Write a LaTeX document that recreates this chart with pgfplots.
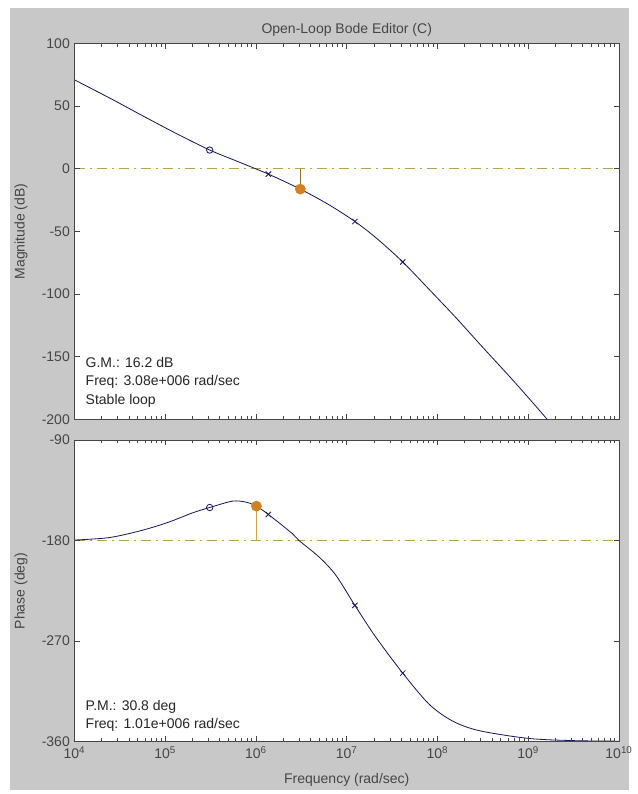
\documentclass[border=0pt]{standalone}
\usepackage{pgfplots}
\pgfplotsset{compat=1.18}
\usepackage{fontspec}
\setmainfont{Liberation Sans}
\definecolor{bg}{RGB}{200,200,200}
\definecolor{curve}{RGB}{20,20,95}
\definecolor{refl}{RGB}{190,160,70}
\definecolor{dotc}{RGB}{210,130,35}
\definecolor{stem1}{RGB}{150,110,40}
\definecolor{stem2}{RGB}{215,160,80}
\definecolor{txt}{RGB}{70,70,70}
\definecolor{frame}{RGB}{70,70,70}

\begin{document}
\begin{tikzpicture}
\begin{scope}[x=0.75pt,y=-0.75pt]
\path[use as bounding box] (0,0) rectangle (629,794);
\fill[white] (0,0) rectangle (629,794);
\fill[bg] (10,8) rectangle (629,790);
\end{scope}

% Magnitude
\begin{axis}[
  scale only axis,
  width=408.375pt,
  height=282pt,
  xmode=log, log basis x=10,
  xmin=1e4, xmax=1e10,
  xtick={1e4,1e5,1e6,1e7,1e8,1e9,1e10},
  minor xtick={2e4,3e4,4e4,5e4,6e4,7e4,8e4,9e4,2e5,3e5,4e5,5e5,6e5,7e5,8e5,9e5,2e6,3e6,4e6,5e6,6e6,7e6,8e6,9e6,2e7,3e7,4e7,5e7,6e7,7e7,8e7,9e7,2e8,3e8,4e8,5e8,6e8,7e8,8e8,9e8,2e9,3e9,4e9,5e9,6e9,7e9,8e9,9e9},
  axis on top,
  tick align=inside,
  xtick pos=both, ytick pos=both,
  major tick length=4pt,
  minor tick length=2.5pt,
  axis background/.style={fill=white},
  axis line style={draw=frame, line width=0.6pt},
  major tick style={draw=frame, line width=0.7pt},
  minor tick style={draw=frame, line width=0.7pt},
  tick label style={font=\fontsize{10.5}{12}\selectfont, text=txt},
  at={(55.875pt,-32.625pt)}, anchor=north west,
  ymin=-200, ymax=100,
  ytick={-200,-150,-100,-50,0,50,100},
  yticklabels={-200,-150,-100,-50,0,50,100},
  xticklabels={},
]
\addplot[refl, line width=0.6pt, dash pattern=on 8pt off 3.5pt on 1.5pt off 3.5pt] coordinates {(1e4,0) (1e10,0)};
\addplot[stem1, line width=0.6pt] coordinates {(3.08e6,0) (3.08e6,-16.2)};
\addplot[curve, line width=0.6pt, smooth] coordinates {
(1e4,71) (2.455e4,56.4) (5.754e4,42) (1.259e5,29) (3.09e5,15)
(6.31e5,5.8) (1.368e6,-4.2) (3.08e6,-16.2) (6.31e6,-28.5) (1.23e7,-42)
(2.138e7,-55.5) (4.14e7,-74.3) (8.26e7,-96.9) (1.585e8,-118.5) (2.938e8,-140)
(6.84e8,-169) (1.596e9,-199.4) (2.512e9,-217)
};
\addplot[curve, only marks, mark=o, mark size=2.4pt, mark options={line width=0.6pt}] coordinates {(3.09e5,15)};
\addplot[curve, only marks, mark=x, mark size=2.8pt, mark options={line width=0.6pt}] coordinates {(1.368e6,-4.2) (1.23e7,-42) (4.14e7,-74.3)};
\addplot[only marks, mark=*, mark size=3.8pt, mark options={fill=dotc, draw=dotc}] coordinates {(3.08e6,-16.2)};
\end{axis}

% Phase
\begin{axis}[
  scale only axis,
  width=408.375pt,
  height=226.3pt,
  xmode=log, log basis x=10,
  xmin=1e4, xmax=1e10,
  xtick={1e4,1e5,1e6,1e7,1e8,1e9,1e10},
  minor xtick={2e4,3e4,4e4,5e4,6e4,7e4,8e4,9e4,2e5,3e5,4e5,5e5,6e5,7e5,8e5,9e5,2e6,3e6,4e6,5e6,6e6,7e6,8e6,9e6,2e7,3e7,4e7,5e7,6e7,7e7,8e7,9e7,2e8,3e8,4e8,5e8,6e8,7e8,8e8,9e8,2e9,3e9,4e9,5e9,6e9,7e9,8e9,9e9},
  axis on top,
  tick align=inside,
  xtick pos=both, ytick pos=both,
  major tick length=4pt,
  minor tick length=2.5pt,
  axis background/.style={fill=white},
  axis line style={draw=frame, line width=0.6pt},
  major tick style={draw=frame, line width=0.7pt},
  minor tick style={draw=frame, line width=0.7pt},
  tick label style={font=\fontsize{10.5}{12}\selectfont, text=txt},
  at={(55.875pt,-330pt)}, anchor=north west,
  ymin=-360, ymax=-90,
  ytick={-360,-270,-180,-90},
  yticklabels={-360,-270,-180,-90},
  xticklabels={10\textsuperscript{4},10\textsuperscript{5},10\textsuperscript{6},10\textsuperscript{7},10\textsuperscript{8},10\textsuperscript{9},10\textsuperscript{10}},
]
\addplot[refl, line width=0.6pt, dash pattern=on 8pt off 3.5pt on 1.5pt off 3.5pt] coordinates {(1e4,-180) (1e10,-180)};
\addplot[stem2, line width=0.6pt] coordinates {(1.01e6,-180) (1.01e6,-149.2)};
\addplot[curve, line width=0.6pt, smooth] coordinates {
(1e4,-179.5) (2.427e4,-177.3) (5.623e4,-170.7) (1.109e5,-163.3) (1.995e5,-155.2)
(3.09e5,-150.4) (5.495e5,-144.7) (7.762e5,-145.6) (1.01e6,-149.2) (1.368e6,-156.6)
(2.512e6,-173.7) (2.985e6,-180) (4.955e6,-194.7) (7.586e6,-211) (1.23e7,-238)
(2.089e7,-266.4) (4.14e7,-298.6) (8.035e7,-326.2) (1.445e8,-341.2) (2.851e8,-350)
(1e9,-357) (3.162e9,-359) (1e10,-359.5)
};
\addplot[curve, only marks, mark=o, mark size=2.4pt, mark options={line width=0.6pt}] coordinates {(3.09e5,-150.4)};
\addplot[curve, only marks, mark=x, mark size=2.8pt, mark options={line width=0.6pt}] coordinates {(1.368e6,-156.6) (1.23e7,-238) (4.14e7,-298.6)};
\addplot[only marks, mark=*, mark size=3.8pt, mark options={fill=dotc, draw=dotc}] coordinates {(1.01e6,-149.2)};
\end{axis}

\begin{scope}[x=0.75pt,y=-0.75pt, every node/.style={font=\fontsize{10.5}{12}\selectfont}]
\node[text=txt] at (346.75,30) {Open-Loop Bode Editor (C)};
\node[text=txt, rotate=90] at (21,231.5) {Magnitude (dB)};
\node[text=txt, rotate=90] at (21,591) {Phase (deg)};
\node[text=txt] at (346.75,780) {Frequency (rad/sec)};
\node[anchor=west, text=black!85] at (81,362.6) {G.M.: 16.2 dB};
\node[anchor=west, text=black!85] at (81,381.8) {Freq: 3.08e+006 rad/sec};
\node[anchor=west, text=black!85] at (81,400.4) {Stable loop};
\node[anchor=west, text=black!85] at (81,706.7) {P.M.: 30.8 deg};
\node[anchor=west, text=black!85] at (81,725) {Freq: 1.01e+006 rad/sec};
\end{scope}
\end{tikzpicture}
\end{document}
